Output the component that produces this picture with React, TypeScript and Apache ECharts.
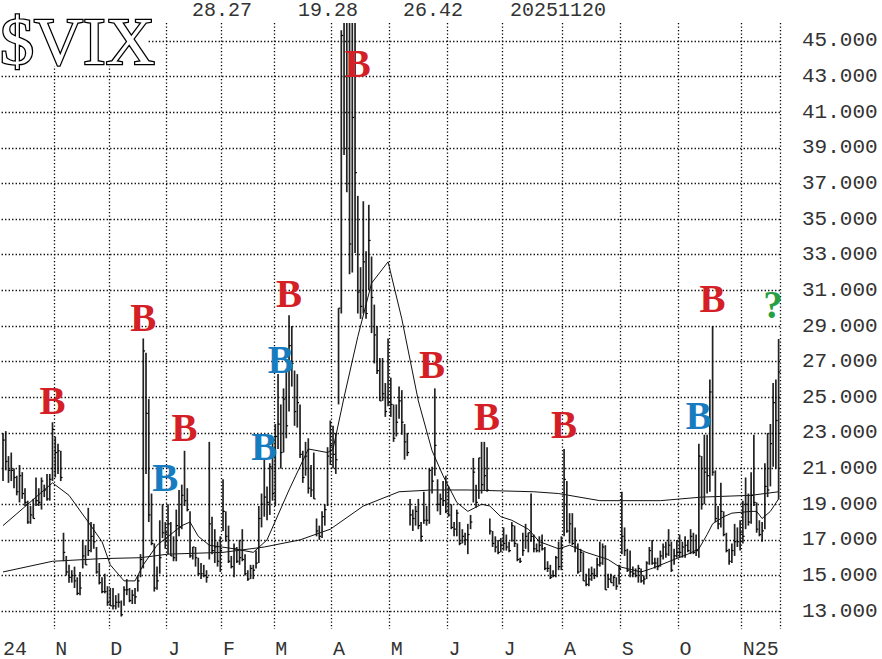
import React, { useEffect, useRef } from 'react';
import * as echarts from 'echarts';

// ---- calendar (trading days, NYSE holidays removed) ----
const START_DATE = '2024-10-07';
const END_DATE = '2025-11-20';
const HOLIDAYS = [
  '2024-11-28', '2024-12-25', '2025-01-01', '2025-01-09', '2025-01-20', '2025-02-17',
  '2025-04-18', '2025-05-26', '2025-06-19', '2025-07-04', '2025-09-01',
];
const MONTH_LABELS = ['24', 'N', 'D', 'J', 'F', 'M', 'A', 'M', 'J', 'J', 'A', 'S', 'O', 'N25'];
const Y_TICKS = [13, 15, 17, 19, 21, 23, 25, 27, 29, 31, 33, 35, 37, 39, 41, 43, 45];

// ---- daily bars: [high, low, close] ----
const BARS: [number, number, number][] = [
  // Oct 2024
  [23.0, 20.3, 22.6], [23.1, 20.9, 21.4], [21.7, 20.2, 20.9], [21.9, 20.3, 20.9], [21.0, 19.9, 20.5],
  [20.6, 19.5, 19.7], [21.2, 19.1, 20.6], [20.8, 19.3, 19.6], [19.9, 18.9, 19.1], [19.2, 17.9, 18.0],
  [18.9, 17.9, 18.4], [19.3, 18.2, 18.2], [20.5, 18.9, 19.2], [19.9, 18.9, 19.1], [20.5, 18.7, 20.3],
  [20.1, 19.4, 19.8], [20.7, 19.2, 19.3], [20.7, 19.2, 20.4], [23.6, 20.3, 23.2],
  // Nov 2024
  [22.8, 20.5, 21.9], [22.4, 20.7, 22.0], [22.0, 20.3, 20.5], [17.4, 15.8, 16.3], [16.1, 15.0, 15.2],
  [15.6, 14.6, 14.9], [15.3, 14.6, 15.0], [15.5, 14.3, 14.7], [14.9, 13.9, 14.0], [15.2, 13.9, 14.3],
  [17.0, 15.4, 16.1], [16.7, 15.6, 15.6], [18.8, 16.1, 16.4], [18.0, 16.3, 17.2], [17.9, 16.5, 16.9],
  [16.6, 15.1, 15.2], [15.7, 14.5, 14.6], [14.9, 14.0, 14.1], [15.1, 14.0, 14.1], [14.4, 13.3, 13.5],
  // Dec 2024
  [14.3, 13.3, 13.3], [14.3, 13.1, 13.3], [13.9, 13.1, 13.5], [14.0, 13.2, 13.5], [13.6, 12.7, 12.8],
  [14.4, 13.3, 14.2], [14.8, 13.9, 14.2], [14.3, 13.5, 13.6], [14.2, 13.4, 13.9], [14.3, 13.4, 13.8],
  [15.0, 14.1, 14.7], [16.2, 14.9, 15.9], [28.3, 15.4, 27.6], [27.5, 20.7, 24.1], [24.9, 18.0, 18.4],
  [19.6, 16.7, 16.8], [16.8, 14.1, 14.3], [15.5, 14.2, 14.7], [18.1, 15.1, 16.0], [19.0, 17.1, 17.4],
  [18.0, 16.5, 17.4],
  // Jan 2025
  [19.0, 16.2, 17.9], [18.0, 16.1, 16.1], [17.2, 15.8, 16.0], [18.7, 15.8, 17.8], [19.8, 17.2, 17.7],
  [20.1, 17.6, 19.5], [22.0, 18.9, 19.2], [19.9, 18.6, 18.7], [18.6, 16.0, 16.1], [16.6, 15.9, 16.6],
  [16.6, 15.5, 16.0], [16.0, 15.0, 15.1], [15.7, 14.8, 15.1], [15.6, 14.9, 15.0], [15.3, 14.6, 14.9],
  [22.5, 15.9, 17.9], [18.3, 16.2, 16.4], [17.6, 15.7, 16.6], [16.9, 15.5, 15.8], [17.2, 15.2, 16.4],
  // Feb 2025
  [20.4, 17.5, 18.6], [18.6, 16.9, 17.2], [17.8, 15.7, 15.8], [16.1, 15.4, 15.5], [16.8, 14.9, 16.5],
  [16.6, 15.7, 15.8], [17.0, 15.6, 16.0], [17.6, 15.8, 15.9], [16.2, 15.0, 15.1], [15.3, 14.7, 14.8],
  [15.6, 14.8, 15.4], [15.6, 14.8, 15.3], [16.4, 15.4, 15.7], [18.9, 15.7, 18.2], [19.6, 17.7, 19.0],
  [21.5, 18.3, 19.4], [20.0, 18.1, 19.1], [21.3, 18.4, 21.1], [22.7, 19.2, 19.6],
  // Mar 2025
  [23.5, 18.9, 22.8], [26.3, 22.1, 23.5], [24.6, 21.0, 21.9], [25.5, 21.9, 24.9], [26.6, 22.7, 23.4],
  [29.6, 24.2, 27.9], [29.0, 25.6, 26.9], [26.5, 23.4, 24.2], [26.3, 23.3, 24.7], [24.6, 21.6, 21.8],
  [22.0, 20.2, 20.5], [22.5, 20.6, 21.7], [22.7, 19.6, 19.9], [21.2, 19.4, 19.8], [21.9, 19.3, 19.3],
  [18.2, 17.2, 17.5], [17.8, 17.0, 17.2], [18.6, 17.1, 18.3], [19.0, 17.8, 18.7], [22.2, 18.9, 21.7],
  [23.7, 21.2, 22.3],
  // Apr 2025
  [23.4, 21.0, 21.8], [23.0, 20.7, 21.5], [30.0, 24.6, 30.0], [45.6, 29.7, 45.3], [60.1, 38.6, 47.0],
  [57.5, 36.5, 52.3], [57.5, 31.9, 33.6], [54.9, 32.0, 40.7], [46.0, 33.1, 37.6], [36.3, 29.7, 30.9],
  [32.3, 29.4, 30.1], [36.0, 29.7, 32.6], [33.2, 29.4, 29.7], [35.8, 31.0, 33.8], [32.9, 28.6, 30.6],
  [30.2, 26.9, 28.5], [29.0, 26.3, 26.5], [27.2, 24.8, 24.8], [27.2, 24.8, 25.2], [25.8, 23.9, 24.2],
  [28.3, 24.5, 24.7],
  // May 2025
  [26.1, 23.9, 24.6], [24.6, 22.5, 22.7], [24.6, 22.8, 23.6], [25.6, 23.8, 24.8], [25.4, 22.9, 23.6],
  [23.5, 21.5, 22.5], [23.0, 21.7, 21.9], [19.3, 17.8, 18.4], [18.7, 17.5, 18.2], [18.9, 17.8, 18.6],
  [19.3, 17.6, 17.8], [18.0, 16.9, 17.2], [19.7, 17.9, 18.1], [18.9, 17.8, 18.1], [21.0, 17.9, 20.9],
  [21.1, 19.6, 20.3], [25.5, 20.6, 22.3], [20.4, 18.6, 19.0], [19.6, 18.4, 19.3], [20.3, 18.9, 19.2],
  [20.6, 18.5, 18.6],
  // Jun 2025
  [20.0, 18.3, 18.4], [19.0, 17.6, 17.7], [18.0, 17.2, 17.6], [18.7, 17.2, 18.5], [18.0, 16.7, 16.8],
  [17.6, 16.8, 17.2], [17.4, 16.7, 17.0], [17.9, 16.2, 17.3], [18.4, 17.6, 18.0], [21.6, 19.1, 20.8],
  [20.1, 18.8, 19.1], [21.6, 19.3, 21.6], [22.5, 19.6, 20.1], [22.5, 19.8, 20.6], [22.2, 19.7, 19.8],
  [18.2, 17.3, 17.5], [17.5, 16.6, 16.8], [17.2, 16.3, 16.6], [17.0, 16.2, 16.3], [17.1, 16.3, 16.7],
  // Jul 2025
  [17.7, 16.4, 16.8], [17.3, 16.4, 16.6], [16.9, 16.3, 16.4], [18.0, 16.9, 17.8], [17.8, 16.6, 16.8],
  [16.8, 15.8, 15.9], [16.0, 15.7, 15.8], [17.4, 16.1, 16.4], [17.9, 16.5, 17.2], [17.4, 16.3, 17.4],
  [19.6, 16.9, 17.2], [17.3, 16.3, 16.5], [16.8, 16.3, 16.4], [17.2, 16.3, 16.7], [17.3, 16.4, 16.5],
  [16.6, 15.3, 15.4], [15.8, 15.2, 15.4], [15.6, 14.8, 14.9], [15.3, 14.9, 15.0], [16.1, 14.9, 16.0],
  [16.9, 15.3, 15.5], [17.2, 15.3, 16.7],
  // Aug 2025
  [22.1, 17.2, 20.4], [20.3, 17.4, 17.5], [18.5, 16.8, 17.9], [18.5, 16.7, 16.8], [17.7, 16.3, 16.6],
  [16.8, 15.1, 15.2], [16.5, 15.2, 16.3], [16.3, 14.7, 14.7], [15.1, 14.4, 14.5], [15.4, 14.4, 14.8],
  [15.5, 14.7, 15.1], [15.4, 14.8, 15.0], [16.0, 14.9, 15.6], [16.9, 15.5, 15.7], [16.8, 15.6, 16.6],
  [16.7, 14.2, 14.2], [15.1, 14.3, 14.8], [15.1, 14.6, 14.6], [15.0, 14.4, 14.9], [14.9, 14.2, 14.4],
  [15.6, 14.5, 15.4],
  // Sep 2025
  [19.7, 16.2, 17.2], [17.7, 16.1, 16.4], [16.5, 15.2, 15.3], [16.4, 14.9, 15.2], [15.5, 14.9, 15.1],
  [15.4, 14.9, 15.0], [15.6, 14.6, 15.4], [15.4, 14.6, 14.7], [15.0, 14.5, 14.8], [15.8, 14.8, 15.7],
  [16.6, 15.6, 16.4], [17.0, 15.6, 15.7], [16.0, 15.4, 15.7], [16.0, 15.3, 15.5], [16.4, 15.5, 16.1],
  [16.8, 15.9, 16.6], [16.9, 16.0, 16.2], [17.6, 16.1, 16.7], [16.9, 15.2, 15.3], [16.5, 15.6, 16.1],
  [17.0, 16.0, 16.3],
  // Oct 2025
  [17.3, 16.0, 16.3], [16.9, 16.0, 16.6], [17.2, 16.0, 16.7], [17.0, 16.3, 16.4], [17.6, 16.2, 17.2],
  [17.4, 16.2, 16.3], [17.3, 16.1, 16.4], [22.4, 16.0, 21.7], [21.7, 18.7, 19.0], [22.9, 19.0, 20.8],
  [22.9, 19.6, 20.6], [26.0, 19.7, 25.3], [29.0, 20.6, 20.8], [20.9, 18.0, 18.2], [18.9, 17.6, 17.9],
  [20.2, 17.7, 18.6], [18.6, 17.2, 17.3], [17.4, 16.3, 16.4], [16.5, 15.6, 15.8], [16.8, 15.7, 16.4],
  [17.9, 16.1, 16.9], [17.7, 16.6, 16.9], [18.1, 16.4, 17.4],
  // Nov 2025
  [19.2, 16.8, 17.2], [20.5, 17.6, 19.0], [19.6, 17.8, 18.0], [20.8, 17.9, 19.5], [22.9, 18.9, 19.1],
  [19.1, 17.4, 17.6], [18.1, 17.2, 17.3], [18.0, 16.9, 17.5], [21.3, 17.6, 20.0], [23.0, 19.4, 19.8],
  [23.5, 20.0, 22.4], [25.8, 21.1, 24.7], [26.0, 21.0, 23.7], [28.27, 19.28, 26.42],
];

// ---- moving averages: [trading-day number, value] ----
const MA_SHORT: [number, number][] = [
  [0, 17.8], [18, 20.2], [24, 19.5], [31, 18.0], [36, 16.9], [39, 15.6], [44, 14.7], [48, 14.7],
  [51, 15.6], [56, 16.7], [65, 17.8], [68, 18.0], [71, 17.2], [75, 16.7], [84, 16.5], [91, 16.3],
  [96, 17.0], [104, 19.8], [111, 22.1], [118, 21.9], [120, 22.1], [124, 25.0], [129, 28.4], [134, 31.4],
  [140, 32.6], [145, 29.4], [151, 24.8], [156, 22.0], [160, 20.6], [165, 19.1], [169, 18.6], [174, 19.0],
  [177, 18.9], [181, 18.3], [185, 18.1], [191, 17.6], [195, 16.9], [202, 16.5], [206, 16.7], [212, 16.3],
  [220, 15.9], [224, 15.5], [232, 15.2], [236, 15.4], [244, 15.9], [249, 16.2], [253, 16.5], [256, 17.3],
  [258, 17.9], [262, 18.3], [265, 18.5], [272, 18.6], [274, 18.6], [276, 18.2], [279, 18.6], [282, 19.3],
];
const MA_LONG: [number, number][] = [
  [0, 15.2], [18, 15.8], [36, 15.95], [50, 16.0], [60, 16.2], [80, 16.3], [95, 16.6], [108, 17.0],
  [119, 17.6], [131, 18.9], [144, 19.7], [156, 19.8], [169, 19.8], [193, 19.7], [202, 19.6], [217, 19.2],
  [239, 19.2], [254, 19.4], [272, 19.5], [282, 19.7],
];

// ---- signal letters ----
const SIGNAL_DATES = [
  '2024-10-31', '2024-12-18', '2024-12-31', '2025-01-13', '2025-02-25', '2025-03-05', '2025-03-10',
  '2025-04-14', '2025-05-22', '2025-06-23', '2025-08-01', '2025-10-10', '2025-10-17', '2025-11-18',
];
const SIGNAL_VALUES = [24.8, 29.5, 20.5, 23.3, 22.25, 27.1, 30.8, 43.7, 26.85, 23.9, 23.5, 24.0, 30.55, 30.2];
const SIGNAL_TEXT = ['B', 'B', 'B', 'B', 'B', 'B', 'B', 'B', 'B', 'B', 'B', 'B', 'B', '?'];
const SIGNAL_KIND = ['r', 'r', 'b', 'r', 'b', 'b', 'r', 'r', 'r', 'r', 'r', 'b', 'r', 'g'];
const KIND_COLOR: Record<string, string> = { r: '#d41f26', b: '#167cbf', g: '#26a042' };

function buildDates(): string[] {
  const out: string[] = [];
  const [sy, sm, sd] = START_DATE.split('-').map(Number);
  const [ey, em, ed] = END_DATE.split('-').map(Number);
  let t = Date.UTC(sy, sm - 1, sd);
  const end = Date.UTC(ey, em - 1, ed);
  while (t <= end) {
    const d = new Date(t);
    const wd = d.getUTCDay();
    const s = d.toISOString().slice(0, 10);
    if (wd !== 0 && wd !== 6 && !HOLIDAYS.includes(s)) out.push(s);
    t += 86400000;
  }
  return out;
}

const MONO = '"Liberation Mono", "DejaVu Sans Mono", monospace';
const SERIF = '"Liberation Serif", "DejaVu Serif", serif';
const DOTS = { color: '#000', width: 1.3, type: [1.3, 2.2] as number[] };

export default function App() {
  const ref = useRef<HTMLDivElement>(null);
  useEffect(() => {
    if (!ref.current) return;
    const chart = echarts.init(ref.current, undefined, { renderer: 'svg' });
    const dates = buildDates();
    const n = Math.min(dates.length, BARS.length);
    const cats = dates.slice(0, n);
    const monthStarts: number[] = [];
    cats.forEach((d, i) => {
      if (i === 0 || d.slice(0, 7) !== cats[i - 1].slice(0, 7)) monthStarts.push(i);
    });
    const labelAt = new Map<number, string>();
    monthStarts.forEach((idx, k) => labelAt.set(idx, MONTH_LABELS[k] ?? ''));
    const splitAt = new Set(monthStarts.filter((i) => i > 0));

    const last = BARS[n - 1];
    const lastDate = cats[n - 1].replace(/-/g, '');
    const topTexts = [last[0].toFixed(2), last[1].toFixed(2), last[2].toFixed(2), lastDate];
    const topX = [192, 298, 403, 510];

    const option: any = {
      animation: false,
      backgroundColor: '#fff',
      grid: { left: 0, right: 102, top: 23, bottom: 29, containLabel: false },
      xAxis: {
        type: 'category',
        data: cats,
        boundaryGap: true,
        axisLine: { show: false },
        axisTick: { show: false },
        splitLine: { show: true, interval: (i: number) => splitAt.has(i), lineStyle: DOTS },
        axisLabel: {
          interval: (i: number) => labelAt.has(i),
          formatter: (_v: string, i: number) => labelAt.get(i) ?? '',
          align: 'left',
          margin: 10,
          fontFamily: MONO,
          fontSize: 20,
          color: '#333',
        },
      },
      yAxis: {
        type: 'value',
        position: 'right',
        min: 12,
        max: 46,
        interval: 1,
        axisLine: { show: false },
        axisTick: { show: false },
        splitLine: { show: false },
        axisLabel: {
          margin: 22,
          fontFamily: MONO,
          fontSize: 21,
          color: '#333',
          formatter: (v: number) => (Y_TICKS.includes(v) ? v.toFixed(3) : ''),
        },
      },
      series: [
        {
          type: 'line',
          name: 'long',
          data: MA_LONG,
          showSymbol: false,
          lineStyle: { color: '#111', width: 1 },
          z: 1,
          silent: true,
          markLine: {
            silent: true,
            symbol: ['none', 'none'],
            label: { show: false },
            lineStyle: DOTS,
            data: Y_TICKS.map((v) => ({ yAxis: v })),
          },
        },
        {
          type: 'custom',
          name: 'bars',
          clip: true,
          z: 2,
          silent: true,
          data: BARS.slice(0, n).map((b, i) => [i, b[0], b[1], b[2]]),
          encode: { x: 0, y: [1, 2] },
          renderItem: (_p: any, api: any) => {
            const i = api.value(0);
            const hi = api.coord([i, api.value(1)]);
            const lo = api.coord([i, api.value(2)]);
            const cl = api.coord([i, api.value(3)]);
            return {
              type: 'group',
              children: [
                {
                  type: 'line',
                  shape: { x1: hi[0], y1: hi[1], x2: lo[0], y2: lo[1] },
                  style: { stroke: '#222', lineWidth: 1.7 },
                },
                {
                  type: 'line',
                  shape: { x1: cl[0], y1: cl[1], x2: cl[0] + 1.8, y2: cl[1] },
                  style: { stroke: '#000', lineWidth: 1.2 },
                },
              ],
            };
          },
        },
        {
          type: 'line',
          name: 'short',
          data: MA_SHORT,
          showSymbol: false,
          lineStyle: { color: '#111', width: 1 },
          z: 3,
          silent: true,
        },
        {
          type: 'scatter',
          name: 'signals',
          z: 5,
          silent: true,
          symbol: 'circle',
          symbolSize: 2,
          itemStyle: { color: 'rgba(0,0,0,0)', opacity: 1 },
          label: {
            show: true,
            position: 'inside',
            fontFamily: SERIF,
            fontWeight: 'bold',
            fontSize: 39,
            textBorderWidth: 0,
            opacity: 1,
          },
          data: SIGNAL_DATES.map((d, k) => ({
            value: [cats.indexOf(d), SIGNAL_VALUES[k]],
            label: {
              show: true,
              formatter: SIGNAL_TEXT[k],
              color: KIND_COLOR[SIGNAL_KIND[k]],
              textBorderWidth: 0,
            },
          })),
        },
      ],
      graphic: [
        { type: 'rect', shape: { x: 0, y: 0, width: 148, height: 66 }, style: { fill: '#fff' }, z: 100 },
        {
          type: 'text',
          x: 0,
          y: 41,
          z: 101,
          style: {
            text: '$VIX',
            font: `68px ${SERIF}`,
            fill: '#fff',
            stroke: '#000',
            lineWidth: 2.6,
            verticalAlign: 'middle',
            align: 'left',
          },
        },
        ...topTexts.map((t, k) => ({
          type: 'text',
          x: topX[k],
          y: 10,
          z: 101,
          style: { text: t, font: `20px ${MONO}`, fill: '#333', verticalAlign: 'middle', align: 'left' },
        })),
      ],
    };
    chart.setOption(option);
    return () => chart.dispose();
  }, []);
  return (
    <div
      ref={ref}
      style={{ position: 'fixed', left: 0, top: 0, width: 882, height: 659, background: '#fff' }}
    />
  );
}
